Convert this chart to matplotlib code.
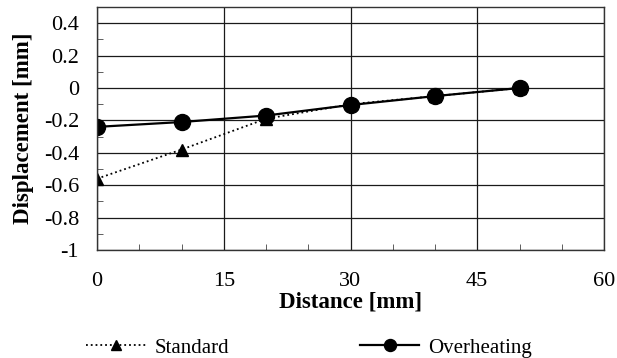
import matplotlib.pyplot as plt
from matplotlib.ticker import MultipleLocator

plt.rcParams['font.family'] = ['Liberation Serif', 'DejaVu Serif']

# 変位データ
distance = [0, 10, 20, 30, 40, 50]
standard = [-0.56, -0.38, -0.19, -0.10, -0.05, 0.0]
overheating = [-0.24, -0.21, -0.17, -0.105, -0.05, 0.0]

fig = plt.figure(figsize=(6.17, 3.58), dpi=100)
ax = fig.add_axes([97 / 617, 1 - 250 / 358, 507 / 617, 243 / 358])

ax.plot(distance, standard, linestyle=':', color='black', linewidth=1.3,
        marker='^', markersize=9, label='Standard')
ax.plot(distance, overheating, linestyle='-', color='black', linewidth=1.6,
        marker='o', markersize=11.5, label='Overheating')

ax.set_xlim(0, 60)
ax.set_ylim(-1, 0.5)
ax.xaxis.set_major_locator(MultipleLocator(15))
ax.xaxis.set_minor_locator(MultipleLocator(5))
ax.yaxis.set_minor_locator(MultipleLocator(0.1))
ax.set_yticks([-1, -0.8, -0.6, -0.4, -0.2, 0, 0.2, 0.4])
ax.set_yticklabels(['-1', '-0.8', '-0.6', '-0.4', '-0.2', '0', '0.2', '0.4'])

ax.grid(True, which='major', color='#1a1a1a', linewidth=0.9)
ax.tick_params(which='major', length=0, labelsize=16)
ax.tick_params(axis='y', which='major', pad=13)
ax.tick_params(axis='x', which='major', pad=16)
ax.tick_params(which='minor', direction='in', length=4, color='#444444')
for s in ax.spines.values():
    s.set_color('#333333')
    s.set_linewidth(1.0)

ax.set_xlabel('Distance [mm]', fontsize=16.5, fontweight='bold')
ax.xaxis.label.set_va('center')
ax.xaxis.set_label_coords(0.5, -0.214)
ax.set_ylabel('Displacement [mm]', fontsize=16.5, fontweight='bold')
ax.yaxis.label.set_va('center')
ax.yaxis.set_label_coords(-0.145, 0.5)

fig.legend(loc='center', bbox_to_anchor=(309 / 617, 1 - 348 / 358), ncol=2,
           frameon=False, fontsize=15, columnspacing=6.3, handlelength=2.85,
           handletextpad=0.4, markerscale=0.75, borderpad=0)

plt.savefig('out.png', dpi=100)
